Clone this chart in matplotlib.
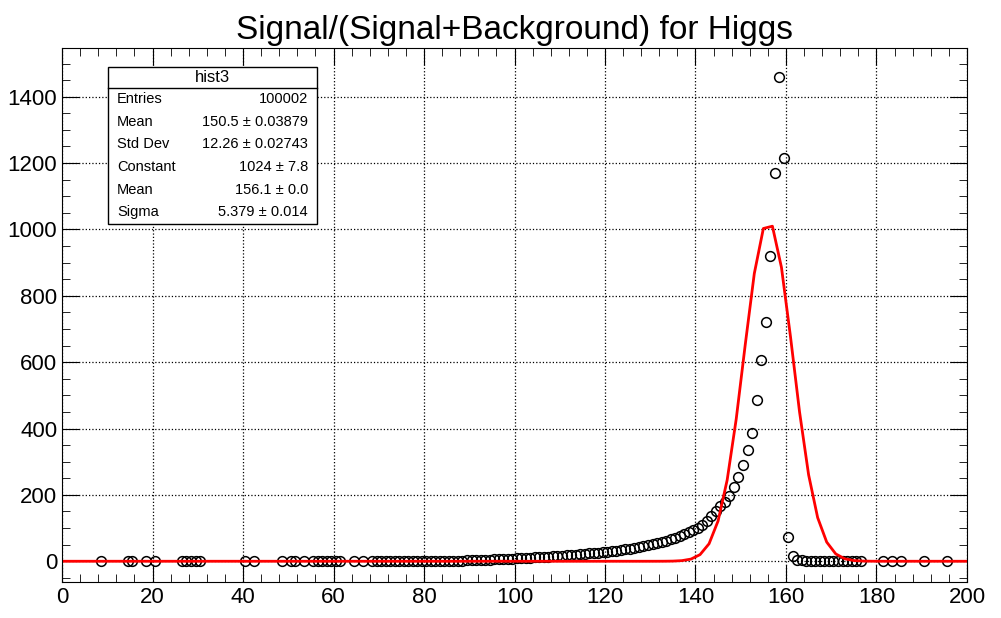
import numpy as np
import matplotlib
matplotlib.use("Agg")
import matplotlib.pyplot as plt
from matplotlib.ticker import MultipleLocator

plt.rcParams['font.family'] = ['Liberation Sans', 'DejaVu Sans']

# bins drawn with zero content (low-x side)
zero_bins = [8, 14, 15, 18, 20, 26, 27, 28, 29, 30, 40, 42, 48, 50, 51, 53, 55,
             56, 57, 58, 59, 60, 61, 64, 66]
# continuous region, bin 68 .. 175
tail_vals = [0, 0, 0, 0, 0, 0, 0, 0, 0, 0,            # 68-77
             0, 0, 1, 1, 1, 1, 1, 1, 2, 2,            # 78-87
             2, 3, 3, 4, 4, 5, 5, 6, 6, 7,            # 88-97
             8, 8, 9, 10, 10, 11, 12, 13, 13, 14,     # 98-107
             15, 16, 17, 18, 19, 20, 21, 22, 24, 25,  # 108-117
             26, 27, 29, 30, 32, 34, 36, 38, 40, 42,  # 118-127
             45, 48, 51, 54, 58, 62, 66, 71, 76, 82,  # 128-137
             88, 94, 100, 110, 120, 135, 150, 165, 178, 196,  # 138-147
             223, 253, 290, 335, 385, 485, 605, 720, 920, 1170,  # 148-157
             1460, 1215, 72, 15, 5, 3, 2, 1, 1, 0,    # 158-167
             0, 0, 0, 0, 0, 0, 0, 0]                  # 168-175
far_bins = [176, 181, 183, 185, 190, 195]

x_pts = [b + 0.5 for b in zero_bins] + [68.5 + i for i in range(len(tail_vals))] + [b + 0.5 for b in far_bins]
y_pts = [0] * len(zero_bins) + tail_vals + [0] * len(far_bins)

# gaus fit parameters
fit_const, fit_mean, fit_sigma = 1024, 156.1, 5.379
fx = np.concatenate([[0], np.arange(1, 200, 2), [200]])
fy = fit_const * np.exp(-0.5 * ((fx - fit_mean) / fit_sigma) ** 2)

fig = plt.figure(figsize=(10.01, 6.18), dpi=100)
ax = fig.add_axes([0.062, 0.058, 0.904, 0.865])
ax.plot(x_pts, y_pts, 'o', mfc='none', mec='black', ms=7, mew=1.1)
ax.plot(fx, fy, color='red', lw=2)

ax.set_xlim(0, 200)
ax.set_ylim(-63, 1548)
ax.xaxis.set_major_locator(MultipleLocator(20))
ax.xaxis.set_minor_locator(MultipleLocator(4))
ax.yaxis.set_major_locator(MultipleLocator(200))
ax.yaxis.set_minor_locator(MultipleLocator(50))
ax.tick_params(which='both', direction='in', top=True, right=True, labelsize=16)
ax.tick_params(which='major', length=12)
ax.tick_params(which='minor', length=6)
ax.grid(True, which='major', ls=':', color='black', lw=0.9)
ax.set_title('Signal/(Signal+Background) for Higgs', fontsize=24, pad=6)

# stats box
bx0, bx1 = (108 - 62) / 905, (317 - 62) / 905
by_top, by_bot = 1 - (67 - 48) / 534, 1 - (224 - 48) / 534
hdr = 1 - (88 - 48) / 534
ax.add_patch(plt.Rectangle((bx0, by_bot), bx1 - bx0, by_top - by_bot, transform=ax.transAxes,
                           fc='white', ec='black', lw=1, zorder=5))
ax.plot([bx0, bx1], [hdr, hdr], transform=ax.transAxes, color='black', lw=1, zorder=6)
ax.text((bx0 + bx1) / 2, (by_top + hdr) / 2, 'hist3', transform=ax.transAxes,
        ha='center', va='center', fontsize=12, zorder=7)
rows = [('Entries', '100002'), ('Mean', '150.5 ± 0.03879'), ('Std Dev', '12.26 ± 0.02743'),
        ('Constant', '1024 ± 7.8'), ('Mean', '156.1 ± 0.0'), ('Sigma', '5.379 ± 0.014')]
step = (hdr - by_bot) / len(rows)
for i, (k, v) in enumerate(rows):
    yy = hdr - step * (i + 0.5)
    ax.text(bx0 + 0.01, yy, k, transform=ax.transAxes, va='center', fontsize=10.5, zorder=7)
    ax.text(bx1 - 0.01, yy, v, transform=ax.transAxes, va='center', ha='right', fontsize=10.5, zorder=7)

fig.savefig('out.png', dpi=100)
